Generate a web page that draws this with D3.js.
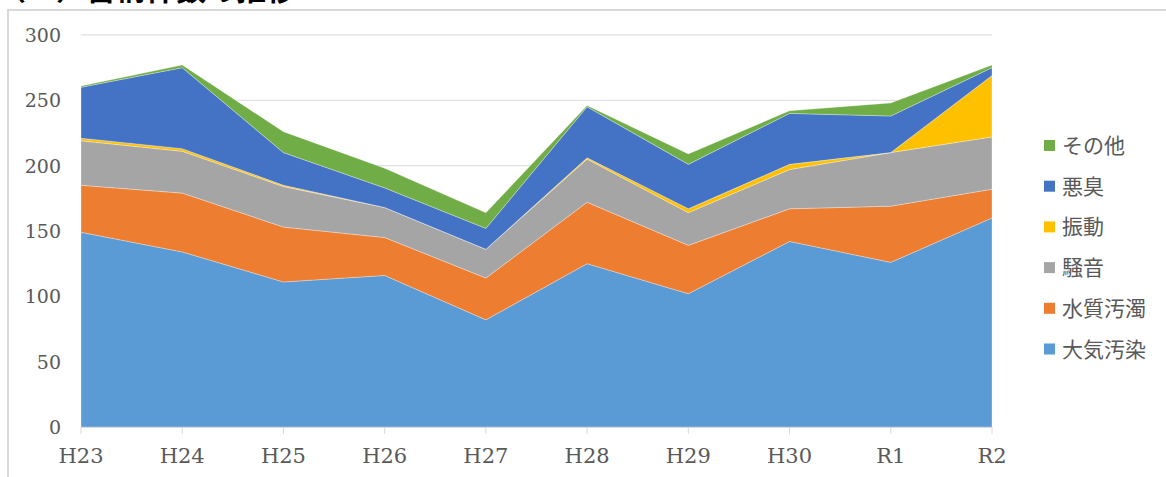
<!DOCTYPE html>
<html>
<head>
<meta charset="utf-8">
<script src="https://cdn.jsdelivr.net/npm/d3@7"></script>
<style>
  body { margin: 0; background: #fff; }
  svg { display: block; }
</style>
</head>
<body>
<svg id="chart" width="1166" height="477"></svg>
<script>
// 年度
const years = ['H23', 'H24', 'H25', 'H26', 'H27', 'H28', 'H29', 'H30', 'R1', 'R2'];
// 種類別の苦情件数（下から積み上げ順）
const taiki = [149, 134, 111, 116, 82, 125, 102, 142, 126, 160];
const suishitsu = [36, 45, 42, 29, 32, 47, 37, 25, 43, 22];
const souon = [34, 32, 31, 23, 22, 33, 25, 30, 41, 40];
const shindou = [2, 2, 1, 0, 0, 1, 3, 4, 0, 47];
const akushuu = [39, 62, 25, 15, 16, 39, 34, 39, 28, 6];
const sonota = [1, 2, 16, 15, 12, 1, 8, 2, 10, 2];

const seriesNames = ['大気汚染', '水質汚濁', '騒音', '振動', '悪臭', 'その他'];
const seriesValues = [taiki, suishitsu, souon, shindou, akushuu, sonota];
const colors = ['#5b9bd5', '#ed7d31', '#a5a5a5', '#ffc000', '#4472c4', '#70ad47'];
const yTicks = [0, 50, 100, 150, 200, 250, 300];

const rows = years.map((year, i) => {
  const row = { year };
  seriesNames.forEach((name, k) => { row[name] = seriesValues[k][i]; });
  return row;
});

const svg = d3.select('#chart');

// 枠
svg.append('path')
  .attr('d', 'M8,480 V10 H1170')
  .attr('fill', 'none')
  .attr('stroke', '#d9d9d9')
  .attr('stroke-width', 2);

// タイトル（上部で切れている）
svg.append('text')
  .attr('x', -4)
  .attr('y', 0)
  .attr('font-family', '"Noto Sans CJK JP", sans-serif')
  .attr('font-weight', 'bold')
  .attr('font-size', 30)
  .attr('fill', '#000')
  .text('（１）苦情件数の推移');

const x = d3.scalePoint().domain(years).range([81, 992]);
const y = d3.scaleLinear().domain([0, 300]).range([427, 35]);

// グリッド線
svg.append('g')
  .selectAll('line')
  .data(yTicks.slice(1))
  .join('line')
  .attr('x1', 81)
  .attr('x2', 992)
  .attr('y1', d => y(d))
  .attr('y2', d => y(d))
  .attr('stroke', '#d9d9d9')
  .attr('stroke-width', 1);

// Y軸ラベル
svg.append('g')
  .attr('font-family', '"DejaVu Serif", serif')
  .attr('font-size', 19)
  .attr('fill', '#595959')
  .attr('text-anchor', 'end')
  .selectAll('text')
  .data(yTicks)
  .join('text')
  .attr('x', 61)
  .attr('y', d => y(d))
  .attr('dy', '0.36em')
  .text(d => d);

const stack = d3.stack().keys(seriesNames);
const layers = stack(rows);

const area = d3.area()
  .x(d => x(d.data.year))
  .y0(d => y(d[0]))
  .y1(d => y(d[1]));

svg.append('g')
  .selectAll('path')
  .data(layers)
  .join('path')
  .attr('fill', (d, i) => colors[i])
  .attr('stroke', '#ffffff')
  .attr('stroke-opacity', 0.5)
  .attr('stroke-width', 0.6)
  .attr('d', area);

// X軸
const xAxis = svg.append('g');
xAxis.append('line')
  .attr('x1', 81)
  .attr('x2', 992)
  .attr('y1', 427.5)
  .attr('y2', 427.5)
  .attr('stroke', '#d9d9d9');
xAxis.selectAll('line.tick')
  .data(years)
  .join('line')
  .attr('class', 'tick')
  .attr('x1', d => x(d))
  .attr('x2', d => x(d))
  .attr('y1', 427)
  .attr('y2', 434)
  .attr('stroke', '#d9d9d9');
xAxis.selectAll('text')
  .data(years)
  .join('text')
  .attr('x', d => x(d))
  .attr('y', 463)
  .attr('text-anchor', 'middle')
  .attr('font-family', '"DejaVu Serif", serif')
  .attr('font-size', 21)
  .attr('fill', '#595959')
  .text(d => d);

// 凡例（上から その他 → 大気汚染）
const legend = svg.append('g')
  .selectAll('g')
  .data(seriesNames.map((name, i) => ({ name, color: colors[i] })).reverse())
  .join('g')
  .attr('transform', (d, i) => `translate(1044,${145.5 + i * 40.7})`);

legend.append('rect')
  .attr('x', 0)
  .attr('y', -5.5)
  .attr('width', 11)
  .attr('height', 11)
  .attr('fill', d => d.color);

legend.append('text')
  .attr('x', 18)
  .attr('dy', '0.36em')
  .attr('font-family', '"Noto Sans CJK JP", sans-serif')
  .attr('font-size', 21)
  .attr('fill', '#595959')
  .text(d => d.name);
</script>
</body>
</html>
